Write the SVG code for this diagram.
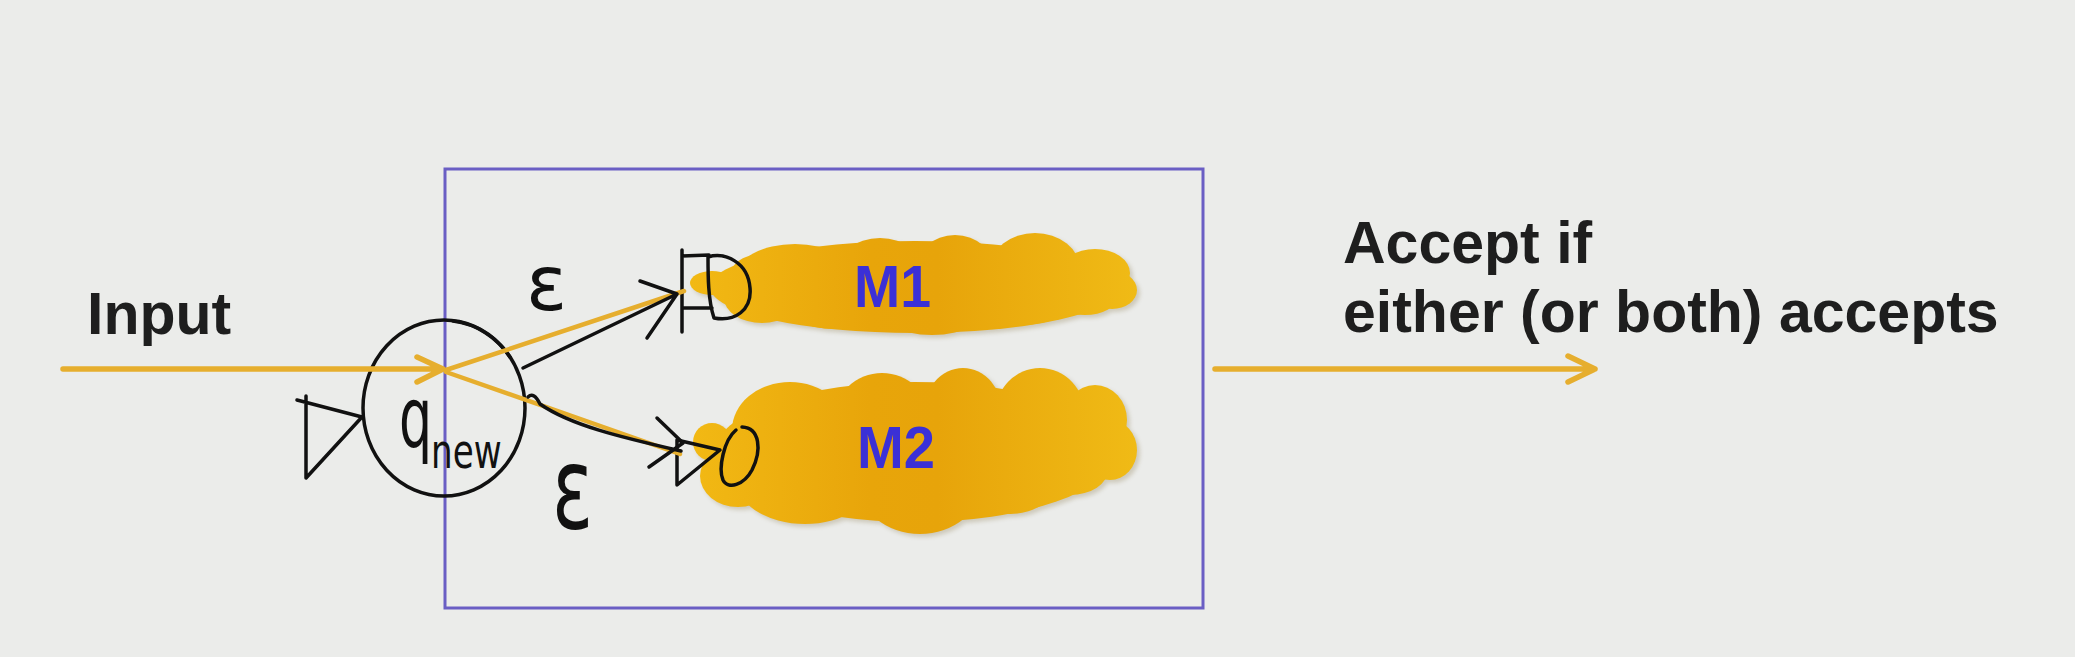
<svg xmlns="http://www.w3.org/2000/svg" width="2075" height="657" viewBox="0 0 2075 657">
<defs>
<style>
.lbl{font-family:"Liberation Sans",Arial,sans-serif;font-weight:bold;fill:#1e1e1e;font-size:59px}
.mlbl{font-family:"Liberation Sans",Arial,sans-serif;font-weight:bold;fill:#3b30d6;font-size:60px}
.ink{fill:none;stroke:#111;stroke-width:3.5;stroke-linecap:round;stroke-linejoin:round}
.hand{font-family:"DejaVu Sans",sans-serif;fill:#111}
.ylw{fill:none;stroke:#E6AE2E;stroke-width:5.5;stroke-linecap:round;stroke-linejoin:round}
.ylw2{fill:none;stroke:#E6AE2E;stroke-width:4.5;stroke-linecap:round}
.cloud{fill:url(#cg)}
.shadow{fill:#8a7a50;opacity:0.3;filter:url(#blur)}
</style>
<linearGradient id="cg" gradientUnits="userSpaceOnUse" x1="690" y1="0" x2="1140" y2="0">
<stop offset="0" stop-color="#F2B914"/>
<stop offset="0.4" stop-color="#E8A50A"/>
<stop offset="0.55" stop-color="#E7A40A"/>
<stop offset="1" stop-color="#F0BB16"/>
</linearGradient>
<filter id="blur" x="-10%" y="-20%" width="120%" height="140%"><feGaussianBlur stdDeviation="2"/></filter>
<g id="c1">
<ellipse cx="712" cy="283" rx="22" ry="12"/>
<ellipse cx="915" cy="287" rx="205" ry="46"/>
<ellipse cx="795" cy="277" rx="60" ry="33"/>
<ellipse cx="880" cy="273" rx="45" ry="35"/>
<ellipse cx="955" cy="271" rx="40" ry="36"/>
<ellipse cx="1035" cy="269" rx="45" ry="36"/>
<ellipse cx="1095" cy="273" rx="35" ry="24"/>
<ellipse cx="1112" cy="290" rx="25" ry="19"/>
<ellipse cx="762" cy="298" rx="38" ry="25"/>
<ellipse cx="835" cy="300" rx="55" ry="29"/>
<ellipse cx="932" cy="302" rx="60" ry="33"/>
<ellipse cx="1022" cy="300" rx="50" ry="25"/>
<ellipse cx="1085" cy="297" rx="32" ry="18"/>
<ellipse cx="752" cy="284" rx="24" ry="28"/>
</g>
<g id="c2">
<ellipse cx="712" cy="442" rx="19" ry="19"/>
<ellipse cx="915" cy="452" rx="200" ry="70"/>
<ellipse cx="790" cy="430" rx="58" ry="48"/>
<ellipse cx="882" cy="420" rx="48" ry="47"/>
<ellipse cx="963" cy="415" rx="40" ry="47"/>
<ellipse cx="1040" cy="415" rx="45" ry="47"/>
<ellipse cx="1095" cy="420" rx="32" ry="35"/>
<ellipse cx="1110" cy="450" rx="27" ry="30"/>
<ellipse cx="1070" cy="470" rx="38" ry="25"/>
<ellipse cx="1010" cy="478" rx="48" ry="36"/>
<ellipse cx="920" cy="482" rx="62" ry="52"/>
<ellipse cx="805" cy="478" rx="70" ry="46"/>
<ellipse cx="738" cy="476" rx="38" ry="31"/>
</g>
</defs>
<rect x="0" y="0" width="2075" height="657" fill="#EBECEA"/>

<g id="box">
<rect x="445" y="169" width="758" height="439" fill="none" stroke="#6A5EC4" stroke-width="3"/>
</g>

<g id="input-label"><text class="lbl" x="87" y="334" font-size="58">Input</text></g>

<g id="accept-label">
<text class="lbl" x="1343" y="263">Accept if</text>
<text class="lbl" x="1343" y="332">either (or both) accepts</text>
</g>

<g id="m1">
<use href="#c1" class="shadow" transform="translate(3,3)"/>
<use href="#c1" class="cloud"/>
<text class="mlbl" x="854" y="307" textLength="77" lengthAdjust="spacingAndGlyphs">M1</text>
<path class="ink" d="M682 250 L682 332 M682 256 L709 255 M682 308 L712 308 M708 257 C725 252 748 262 750 288 C752 310 735 322 714 318 C708 300 708 275 708 257"/>
</g>

<g id="m2">
<use href="#c2" class="shadow" transform="translate(3,3)"/>
<use href="#c2" class="cloud"/>
<text class="mlbl" x="857" y="468" textLength="78" lengthAdjust="spacingAndGlyphs">M2</text>
<path class="ink" d="M677 440 L677 485 L720 450 L677 440"/>
<path class="ink" d="M742 427 C760 428 762 450 752 470 C744 485 728 490 723 480 C718 468 724 440 736 430"/>
</g>

<g id="qnew">
<ellipse class="ink" cx="444" cy="408" rx="81" ry="88"/>
<path class="ink" stroke-width="5.5" d="M453 321 A81 88 0 0 1 510 357"/>
<path class="ink" d="M297 400 L362 417 M306 396 L306 478 L362 417"/>
<text class="hand" transform="translate(399,447) scale(0.9,1.45)" font-size="58">q</text>
<text class="hand" transform="translate(431,468) scale(0.9,1.25)" font-size="38">new</text>
</g>

<g id="connectors">
<path class="ylw" d="M63 369 L443 369 M417 357 L443 369 L417 382"/>
<path class="ylw2" d="M446 370 L684 291 M446 372 L680 454"/>
<path class="ylw" d="M1215 369 L1595 369 M1568 356 L1595 369 L1568 382"/>
<path class="ink" d="M523 368 L677 294 M640 281 L677 294 L647 338"/>
<path class="ink" d="M528 397 C532 393 536 396 540 404 C570 425 620 437 681 451 M657 418 L683 443 L649 467"/>
<text class="hand" x="526" y="310" font-size="76">ε</text>
<text class="hand" transform="translate(552,528) scale(1,1.5)" font-size="76">ε</text>
</g>
</svg>
